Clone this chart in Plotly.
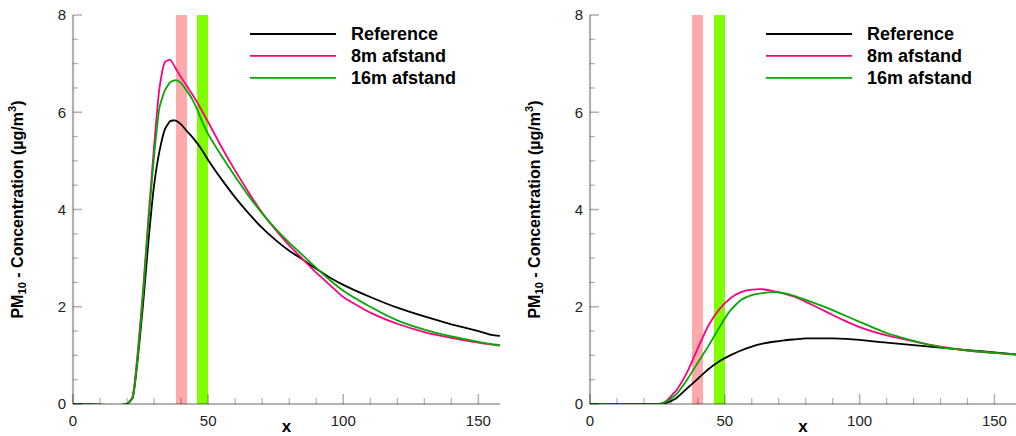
import plotly.graph_objects as go

# ---------------- data ----------------
series_names = ["Reference", "8m afstand", "16m afstand"]
series_colors = ["#000000", "#FF0080", "#00AA00"]

# left panel
x_left = [0, 20, 22, 24, 26, 28, 30, 32, 34, 36, 38, 40, 42, 44, 46, 48, 50, 55, 60, 65, 70,
          75, 80, 85, 90, 95, 100, 110, 120, 130, 140, 150, 155, 158]
ref_left = [0, 0, 0.12, 0.95, 2.1, 3.4, 4.5, 5.2, 5.65, 5.82, 5.83, 5.75, 5.62, 5.5, 5.36, 5.2, 5.02,
            4.62, 4.25, 3.92, 3.62, 3.37, 3.15, 2.97, 2.78, 2.6, 2.45, 2.2, 1.98, 1.8, 1.64, 1.5, 1.42, 1.40]
m8_left = [0, 0, 0.15, 1.1, 2.4, 3.9, 5.3, 6.5, 7.03, 7.08, 6.9, 6.72, 6.55, 6.38, 6.2, 6.0, 5.8,
           5.28, 4.8, 4.35, 3.93, 3.58, 3.26, 2.98, 2.7, 2.45, 2.2, 1.88, 1.65, 1.48, 1.36, 1.26, 1.22, 1.2]
m16_left = [0, 0, 0.12, 1.0, 2.3, 3.8, 5.1, 6.1, 6.45, 6.62, 6.66, 6.6, 6.45, 6.28, 6.05, 5.78, 5.55,
            5.1, 4.68, 4.28, 3.92, 3.6, 3.32, 3.06, 2.8, 2.55, 2.33, 2.0, 1.72, 1.53, 1.39, 1.28, 1.23, 1.21]

# right panel
x_right = [0, 26, 28, 32, 36, 40, 44, 48, 52, 56, 60, 64, 68, 72, 76, 80, 85, 90, 95, 100,
           110, 120, 130, 140, 150, 158]
ref_right = [0, 0, 0.02, 0.12, 0.32, 0.52, 0.72, 0.88, 1.0, 1.1, 1.18, 1.24, 1.28, 1.31, 1.33, 1.35,
             1.35, 1.35, 1.34, 1.32, 1.26, 1.21, 1.16, 1.11, 1.06, 1.02]
m8_right = [0, 0, 0.05, 0.28, 0.65, 1.15, 1.62, 1.95, 2.17, 2.3, 2.35, 2.36, 2.32, 2.27, 2.2, 2.1,
            1.97, 1.83, 1.7, 1.58, 1.41, 1.29, 1.18, 1.1, 1.05, 1.01]
m16_right = [0, 0, 0.04, 0.2, 0.5, 0.85, 1.2, 1.58, 1.92, 2.14, 2.24, 2.28, 2.3, 2.28, 2.22, 2.14,
             2.04, 1.93, 1.81, 1.69, 1.46, 1.3, 1.17, 1.1, 1.05, 1.02]

# screen bands (x ranges)
band_8m = [38, 42]
band_16m = [46, 50]
band_colors = ["#FFAAAA", "#80FF00"]

x_range = [0, 158]
y_range = [0, 8]
x_ticks = [0, 50, 100, 150]
y_ticks = [0, 2, 4, 6, 8]
x_minor_step = 10
y_minor_step = 0.5

# ---------------- figure ----------------
W, H = 1016, 436
ml, mr, mt, mb = 73, 0, 15, 32
pw = W - ml - mr
ph = H - mt - mb
FONT = "Liberation Sans, Arial, sans-serif"

left_dom = [0, (500 - ml) / pw]
right_dom = [(590 - ml) / pw, 1]
panel_w_px = (left_dom[1] - left_dom[0]) * pw

fig = go.Figure()


def legend_label(s):
    return '<span style="font-size:18px;font-weight:bold">\u00a0\u00a0' + s + '</span>'


def frange(a, b, step):
    out, v = [], a
    while v <= b + 1e-9:
        out.append(round(v, 6))
        v += step
    return out


def xfrac(v):
    return (v - x_range[0]) / (x_range[1] - x_range[0])


def yfrac(v):
    return (v - y_range[0]) / (y_range[1] - y_range[0])


panels = [
    ("x", "y", "legend", x_left, [ref_left, m8_left, m16_left]),
    ("x2", "y2", "legend2", x_right, [ref_right, m8_right, m16_right]),
]
shapes = []
for xa, ya, lg, xs, ys_list in panels:
    bands = [band_8m, band_16m]
    fig.add_trace(go.Bar(
        x=[(b[0] + b[1]) / 2 for b in bands], y=[y_range[1]] * len(bands),
        width=[b[1] - b[0] for b in bands], base=[y_range[0]] * len(bands),
        marker=dict(color=band_colors, line=dict(width=0)),
        xaxis=xa, yaxis=ya, showlegend=False, hoverinfo="skip",
    ))
    for name, col, ys in zip(series_names, series_colors, ys_list):
        fig.add_trace(go.Scatter(
            x=xs, y=ys, mode="lines", name=legend_label(name), xaxis=xa, yaxis=ya, legend=lg,
            line=dict(color=col, width=1.8, shape="spline", smoothing=0.5),
        ))

    # ---- axis frame as domain-referenced shapes (not clipped) ----
    xr, yr = f"{xa} domain", f"{ya} domain"

    def seg(x0, y0, x1, y1, w):
        shapes.append(dict(type="line", xref=xr, yref=yr, x0=x0, y0=y0, x1=x1, y1=y1,
                           line=dict(color="black", width=w), layer="above"))

    # x ticks (inside, upward)
    for t in frange(x_range[0], x_range[1], x_minor_step):
        major = t in x_ticks
        seg(xfrac(t), 0, xfrac(t), (10 if major else 6) / ph, 1.5 if major else 1.2)
    # y ticks (inside, rightward)
    for t in frange(y_range[0], y_range[1], y_minor_step):
        major = t in y_ticks
        seg(0, yfrac(t), (9 if major else 5) / panel_w_px, yfrac(t), 1.5 if major else 1.2)
    # axis lines
    seg(0, 0, 0, 1, 2.2)
    seg(0, 0, 1, 0, 2.2)

legend_common = dict(
    font=dict(family=FONT, size=14.6, color="black"),
    bgcolor="rgba(0,0,0,0)", borderwidth=0, itemwidth=86,
    xanchor="left", yanchor="top", tracegroupgap=0,
)

fig.update_layout(
    template="simple_white",
    width=W, height=H,
    margin=dict(l=ml, r=mr, t=mt, b=mb, autoexpand=False),
    paper_bgcolor="white", plot_bgcolor="white",
    showlegend=True, bargap=0, barmode="overlay",
    shapes=shapes,
    xaxis=dict(domain=left_dom, anchor="y"),
    yaxis=dict(domain=[0, 1], anchor="x"),
    xaxis2=dict(domain=right_dom, anchor="y2"),
    yaxis2=dict(domain=[0, 1], anchor="x2"),
    legend=dict(legend_common, x=(245 - ml) / pw, y=1 - (18 - mt) / ph),
    legend2=dict(legend_common, x=(761 - ml) / pw, y=1 - (18 - mt) / ph),
)

axis_common = dict(
    showline=False, ticks="", showgrid=False, zeroline=False, automargin=False,
    ticklabelstandoff=6,
    tickfont=dict(family=FONT, size=15, color="#222222"),
)
fig.update_xaxes(
    **axis_common, range=x_range, tickmode="linear", tick0=x_ticks[0], dtick=x_ticks[1] - x_ticks[0],
    title=dict(text="<b>x</b>", font=dict(family=FONT, size=17, color="black"), standoff=2),
)
fig.update_yaxes(
    **axis_common, range=y_range, tickmode="linear", tick0=y_ticks[0], dtick=y_ticks[1] - y_ticks[0],
    title=dict(text="<b>PM<sub>10</sub> - Concentration (µg/m<sup>3</sup>)</b>",
               font=dict(family=FONT, size=16, color="black"), standoff=30),
)

fig.write_html("out.html")
